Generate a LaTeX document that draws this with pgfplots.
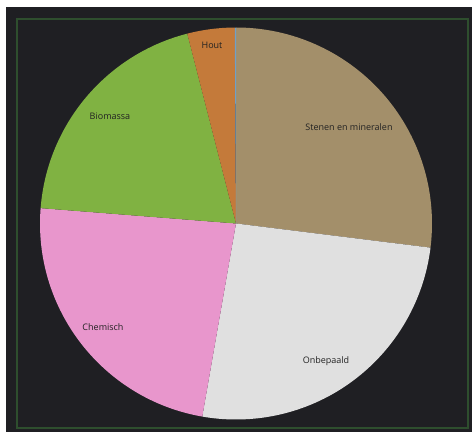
\documentclass[border=0pt]{standalone}
\usepackage{pgfplots}
\usepackage{pgfplotstable}
\pgfplotsset{compat=1.18}
\usepackage{fontspec}
\setmainfont{Open Sans}

\definecolor{bgdark}{RGB}{31,31,35}
\definecolor{frame}{RGB}{46,78,46}
\definecolor{cSten}{RGB}{163,143,106}
\definecolor{cOnb}{RGB}{224,224,224}
\definecolor{cChem}{RGB}{232,150,204}
\definecolor{cBio}{RGB}{128,178,66}
\definecolor{cHout}{RGB}{196,122,58}
\definecolor{cOver}{RGB}{111,160,200}
\definecolor{lbl}{RGB}{34,34,34}

% share of each slice in percent, clockwise from 12 o'clock
\pgfplotstableread[col sep=comma]{
name,value,color
Stenen en mineralen,26.97,cSten
Onbepaald,25.78,cOnb
Chemisch,23.50,cChem
Biomassa,19.75,cBio
Hout,3.90,cHout
Overig,0.10,cOver
}\piedata

\begin{document}
\begin{tikzpicture}
\begin{axis}[
    scale only axis,
    width=472pt, height=432pt,
    xmin=0, xmax=472, ymin=0, ymax=432,
    axis lines=none,
    clip=false,
]
  % page background and panel
  \fill[white] (axis cs:0,0) rectangle (axis cs:472,432);
  \fill[bgdark] (axis cs:6,0) rectangle (axis cs:472,425);
  \draw[frame, line width=1.2pt] (axis cs:17,4) rectangle (axis cs:468,413);

  \pgfplotstablegetrowsof{\piedata}
  \pgfmathtruncatemacro\lastrow{\pgfplotsretval-1}
  \def\acc{90}
  \pgfplotsforeachungrouped \i in {0,...,\lastrow}{
    \pgfplotstablegetelem{\i}{value}\of\piedata
    \let\val=\pgfplotsretval
    \pgfplotstablegetelem{\i}{color}\of\piedata
    \let\col=\pgfplotsretval
    \pgfmathsetmacro\endang{\acc-3.6*\val}
    \edef\temp{\noexpand\fill[\col] (axis cs:236,208.5) -- ++(\acc:196pt)
      arc[start angle=\acc, end angle=\endang, radius=196pt] -- cycle;}
    \temp
    \global\let\acc=\endang
  }

  \begin{scope}[every node/.style={text=lbl, font=\fontsize{9}{11}\selectfont}]
    \node at (axis cs:349,305) {Stenen en mineralen};
    \node at (axis cs:326,71) {Onbepaald};
    \node at (axis cs:103,105) {Chemisch};
    \node at (axis cs:110,316) {Biomassa};
    \node at (axis cs:212,387) {Hout};
  \end{scope}
\end{axis}
\end{tikzpicture}
\end{document}
